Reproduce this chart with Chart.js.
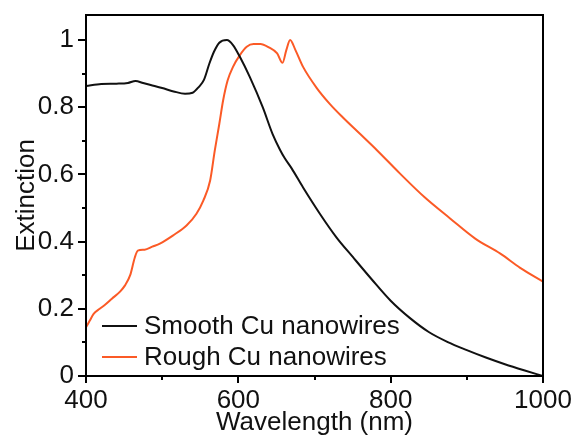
<!DOCTYPE html>
<html>
<head>
<meta charset="utf-8">
<script src="https://cdn.jsdelivr.net/npm/chart.js@4.4.1/dist/chart.umd.min.js"></script>
<style>
html,body{margin:0;padding:0;background:#fff;}
#wrap{width:574px;height:439px;position:relative;}
</style>
</head>
<body>
<div id="wrap"><canvas id="c" width="574" height="439"></canvas></div>
<script>
const seriesLabels = ['Smooth Cu nanowires', 'Rough Cu nanowires'];
const seriesColors = ['#111111', '#fb5a26'];

const smoothWavelength = [400,420,440,455,465,475,485,500,515,530,540,548,555,562,568,575,585,593,602,615,632,645,655,661,670,685,707,729,750,775,800,825,850,875,900,925,950,975,1000];
const smoothExtinction = [0.863,0.869,0.870,0.872,0.878,0.872,0.866,0.857,0.847,0.840,0.843,0.860,0.882,0.930,0.965,0.992,1.000,0.985,0.950,0.890,0.800,0.720,0.672,0.648,0.618,0.561,0.483,0.412,0.355,0.288,0.224,0.173,0.131,0.101,0.077,0.055,0.035,0.017,0.000];

const roughWavelength = [400,405,410,418,425,434,445,451,458,464,468,477,487,497,514,532,545,554,563,569,575,580,586,593,602,611,620,629,640,651,658,663,668,675,685,703,720,737,760,782,812,845,878,911,944,970,1000];
const roughExtinction = [0.145,0.165,0.185,0.200,0.212,0.230,0.252,0.269,0.300,0.352,0.373,0.376,0.385,0.394,0.418,0.448,0.483,0.522,0.582,0.670,0.750,0.820,0.880,0.920,0.955,0.980,0.988,0.988,0.978,0.960,0.932,0.970,1.000,0.970,0.920,0.857,0.810,0.770,0.720,0.672,0.603,0.531,0.469,0.409,0.364,0.322,0.281];

const xTickLabels = [400, 600, 800, 1000];
const yTickLabels = [0, 0.2, 0.4, 0.6, 0.8, 1];
const xTitle = 'Wavelength (nm)';
const yTitle = 'Extinction';

const FONT = "'Liberation Sans', Arial, sans-serif";
const TXT = '#111111';

function toPoints(xs, ys){ return xs.map((x,i)=>({x:x, y:ys[i]})); }

const framePlugin = {
  id: 'frame',
  afterDraw(chart){
    const ctx = chart.ctx, a = chart.chartArea;
    const xs = chart.scales.x, ys = chart.scales.y;
    ctx.save();
    ctx.strokeStyle = '#000';
    ctx.lineWidth = 2;
    ctx.strokeRect(a.left, a.top, a.right - a.left, a.bottom - a.top);
    ctx.beginPath();
    for (let v = 400; v <= 1000; v += 100) {
      const px = Math.round(xs.getPixelForValue(v));
      const major = xTickLabels.includes(v);
      ctx.moveTo(px, a.bottom);
      ctx.lineTo(px, a.bottom + (major ? 7 : 4));
    }
    for (let k = 0; k <= 10; k++) {
      const v = k / 10;
      const py = Math.round(ys.getPixelForValue(v));
      const major = k % 2 === 0;
      ctx.moveTo(a.left, py);
      ctx.lineTo(a.left - (major ? 8 : 4), py);
    }
    ctx.stroke();
    // legend
    const legY = [326, 357];
    ctx.font = '26px ' + FONT;
    ctx.textBaseline = 'middle';
    ctx.textAlign = 'left';
    chart.data.datasets.forEach((ds, i) => {
      ctx.strokeStyle = ds.borderColor;
      ctx.lineWidth = 2;
      ctx.beginPath();
      ctx.moveTo(102, legY[i]);
      ctx.lineTo(137, legY[i]);
      ctx.stroke();
      ctx.fillStyle = TXT;
      ctx.fillText(ds.label, 144, legY[i] + 1);
    });
    ctx.restore();
  }
};

new Chart(document.getElementById('c'), {
  type: 'line',
  data: {
    datasets: [
      { label: seriesLabels[0], data: toPoints(smoothWavelength, smoothExtinction), borderColor: seriesColors[0], borderWidth: 2, pointRadius: 0, cubicInterpolationMode: 'monotone', fill: false },
      { label: seriesLabels[1], data: toPoints(roughWavelength, roughExtinction), borderColor: seriesColors[1], borderWidth: 2, pointRadius: 0, cubicInterpolationMode: 'monotone', fill: false }
    ]
  },
  options: {
    responsive: false,
    animation: false,
    layout: { padding: { top: 15, right: 31, left: 0, bottom: 0 } },
    plugins: { legend: { display: false }, tooltip: { enabled: false } },
    scales: {
      x: {
        type: 'linear', min: 400, max: 1000,
        grid: { display: false, drawTicks: false },
        border: { display: false },
        afterBuildTicks(s){ s.ticks = xTickLabels.map(v => ({value: v})); },
        afterFit(s){ s.height = 63; s.paddingLeft = 0; s.paddingRight = 0; },
        ticks: { color: TXT, font: { family: FONT, size: 26 }, padding: 9, maxRotation: 0, callback: v => String(v) },
        title: { display: true, text: xTitle, color: TXT, font: { family: FONT, size: 26 }, padding: { top: 0, bottom: 1 } }
      },
      y: {
        type: 'linear', min: 0, max: 1.0744,
        grid: { display: false, drawTicks: false },
        border: { display: false },
        afterBuildTicks(s){ s.ticks = yTickLabels.map(v => ({value: v})); },
        afterFit(s){ s.width = 86; s.paddingTop = 0; s.paddingBottom = 0; },
        ticks: { color: TXT, font: { family: FONT, size: 26 }, padding: 12, callback: v => String(+v.toFixed(1)) },
        title: { display: true, text: yTitle, color: TXT, font: { family: FONT, size: 26 }, padding: { top: 11, bottom: 0 } }
      }
    }
  },
  plugins: [framePlugin]
});
</script>
</body>
</html>
